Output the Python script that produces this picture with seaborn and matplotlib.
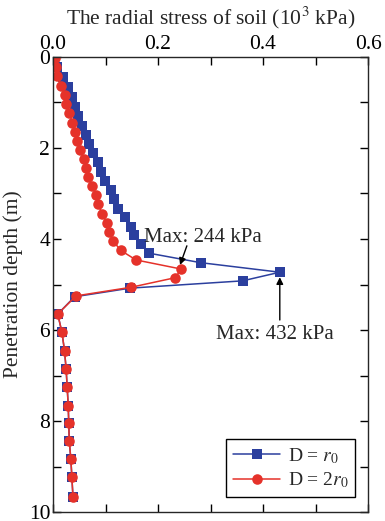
import numpy as np
import pandas as pd
import matplotlib
matplotlib.use("Agg")
import matplotlib.pyplot as plt
import seaborn as sns

# Radial stress of soil (10^3 kPa) versus penetration depth (m)
depth_r0 = [0.00, 0.23, 0.45, 0.67, 0.89, 1.09, 1.30, 1.51, 1.71, 1.91,
            2.10, 2.31, 2.52, 2.72, 2.92, 3.12, 3.33, 3.52, 3.73, 3.92,
            4.12, 4.31, 4.52, 4.73, 4.92, 5.08, 5.27, 5.65, 6.05, 6.46,
            6.86, 7.26, 7.66, 8.05, 8.44, 8.84, 9.24, 9.66]
stress_r0 = [0.000, 0.008, 0.020, 0.029, 0.037, 0.042, 0.048, 0.056, 0.063, 0.069,
             0.077, 0.086, 0.091, 0.099, 0.110, 0.116, 0.124, 0.137, 0.148, 0.155,
             0.168, 0.182, 0.281, 0.432, 0.361, 0.147, 0.041, 0.009, 0.017, 0.022,
             0.025, 0.027, 0.029, 0.030, 0.031, 0.034, 0.036, 0.038]

depth_2r0 = [0.02, 0.21, 0.41, 0.63, 0.84, 1.03, 1.24, 1.44, 1.64, 1.85,
             2.05, 2.25, 2.45, 2.64, 2.84, 3.03, 3.23, 3.44, 3.64, 3.85,
             4.05, 4.25, 4.46, 4.66, 4.85, 5.06, 5.25, 5.65, 6.05, 6.46,
             6.86, 7.26, 7.66, 8.05, 8.44, 8.84, 9.24, 9.66]
stress_2r0 = [0.004, 0.006, 0.008, 0.015, 0.022, 0.025, 0.031, 0.037, 0.042, 0.045,
              0.051, 0.059, 0.063, 0.067, 0.075, 0.082, 0.085, 0.094, 0.102, 0.107,
              0.115, 0.129, 0.158, 0.244, 0.233, 0.149, 0.044, 0.009, 0.017, 0.022,
              0.025, 0.027, 0.029, 0.030, 0.031, 0.034, 0.036, 0.038]

series_labels = [r"D = $r_0$", r"D = 2$r_0$"]
x_ticks = [0.0, 0.2, 0.4, 0.6]
y_ticks = [0, 2, 4, 6, 8, 10]

BLUE = "#2B3F9E"
RED = "#E5322A"

sns.set_style("ticks")
plt.rcParams["font.family"] = ["Liberation Serif", "DejaVu Serif"]
plt.rcParams["mathtext.fontset"] = "stix"
plt.rcParams["axes.linewidth"] = 1.0

fig = plt.figure(figsize=(3.85, 5.21), dpi=100)
ax = fig.add_axes([53 / 385, 1 - 512 / 521, 315 / 385, 455 / 521])

df1 = pd.DataFrame({"stress": stress_r0, "depth": depth_r0})
df2 = pd.DataFrame({"stress": stress_2r0, "depth": depth_2r0})

sns.lineplot(data=df1, x="stress", y="depth", sort=False, estimator=None,
             color=BLUE, marker="s", markersize=6.5, markeredgewidth=0,
             linewidth=1.1, label=series_labels[0], ax=ax)
sns.lineplot(data=df2, x="stress", y="depth", sort=False, estimator=None,
             color=RED, marker="o", markersize=7.6, markeredgewidth=0,
             linewidth=1.1, label=series_labels[1], ax=ax)

ax.set_xlim(0, 0.6)
ax.set_ylim(10, 0)
ax.xaxis.tick_top()
ax.xaxis.set_label_position("top")
ax.set_xticks(x_ticks)
ax.set_xticklabels([f"{v:.1f}" for v in x_ticks])
ax.set_xticks(np.arange(0.1, 0.6, 0.2), minor=True)
ax.set_yticks(y_ticks)
ax.set_yticks(np.arange(1, 10, 2), minor=True)
ax.tick_params(which="both", direction="in", top=True, bottom=True,
               left=True, right=True, labelsize=15.5, width=1.0, colors="black")
ax.tick_params(which="major", length=6, pad=2)
ax.tick_params(which="minor", length=6)

ax.set_xlabel(r"The radial stress of soil (10$^3$ kPa)", fontsize=15.5, labelpad=8)
ax.set_ylabel("Penetration depth (m)", fontsize=15.5, labelpad=4)

# Peak annotations
ax.annotate("", xy=(0.242, 4.57), xytext=(0.255, 4.15),
            arrowprops=dict(arrowstyle="-|>", color="black", lw=1.0,
                            mutation_scale=10, shrinkA=0, shrinkB=0))
ax.text(0.286, 3.96, "Max: 244 kPa", ha="center", va="center", fontsize=15)

ax.annotate("", xy=(0.432, 4.84), xytext=(0.432, 5.78),
            arrowprops=dict(arrowstyle="-|>", color="black", lw=1.0,
                            mutation_scale=10, shrinkA=0, shrinkB=0))
ax.text(0.423, 6.09, "Max: 432 kPa", ha="center", va="center", fontsize=15)

leg = ax.legend(loc="lower right", bbox_to_anchor=(0.959, 0.033),
                borderaxespad=0, fontsize=14, fancybox=False, framealpha=1,
                edgecolor="black", handlelength=2.4, handletextpad=0.4,
                borderpad=0.35, labelspacing=0.25)
leg.get_frame().set_linewidth(1.0)

fig.savefig("out.png", dpi=100)
